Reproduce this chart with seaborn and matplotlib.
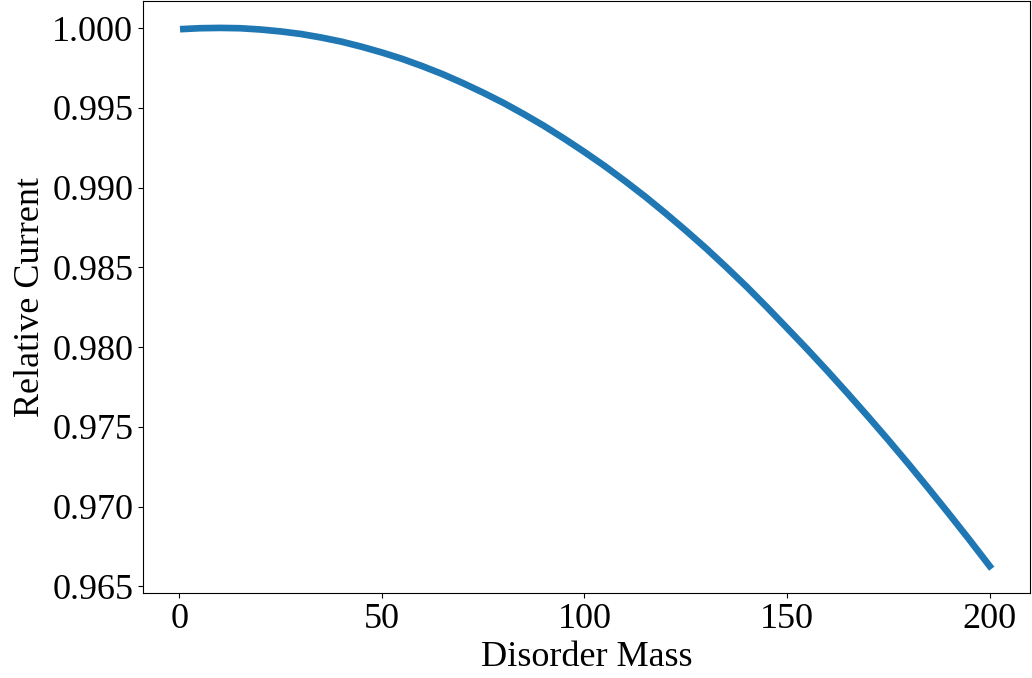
import matplotlib
matplotlib.use("Agg")
import matplotlib.pyplot as plt
import seaborn as sns
import pandas as pd

disorder_mass = [1, 5, 10, 15, 20, 25, 30, 35, 40, 45, 50, 55, 60, 65, 70, 75, 80,
                 85, 90, 95, 100, 105, 110, 115, 120, 125, 130, 135, 140, 145, 150,
                 155, 160, 165, 170, 175, 180, 185, 190, 195, 200]
relative_current = [0.99994, 0.99999, 1.00001, 0.99999, 0.99991, 0.99979, 0.99963,
                    0.99941, 0.99915, 0.99883, 0.99847, 0.99807, 0.99761, 0.99711,
                    0.99655, 0.99595, 0.99531, 0.99461, 0.99387, 0.99307, 0.99223,
                    0.99135, 0.99041, 0.98943, 0.98839, 0.98731, 0.98619, 0.98501,
                    0.98379, 0.98251, 0.98119, 0.97986, 0.97849, 0.97708, 0.97564,
                    0.97417, 0.97266, 0.97111, 0.96953, 0.96792, 0.96627]

df = pd.DataFrame({"Disorder Mass": disorder_mass, "Relative Current": relative_current})

plt.rcParams["font.family"] = ["Liberation Serif", "DejaVu Serif"]
plt.rcParams["font.size"] = 26

fig = plt.figure(figsize=(10.32, 6.78), dpi=100)
ax = fig.add_subplot(111)
fig.subplots_adjust(left=143/1032, right=1030/1032, top=1-1/678, bottom=1-593/678)

sns.lineplot(data=df, x="Disorder Mass", y="Relative Current", ax=ax,
             color="#1f77b4", linewidth=4.8)

ax.set_yticks([0.965, 0.970, 0.975, 0.980, 0.985, 0.990, 0.995, 1.000])
ax.set_yticklabels(["0.965", "0.970", "0.975", "0.980", "0.985", "0.990", "0.995", "1.000"])
ax.set_xticks([0, 50, 100, 150, 200])
ax.tick_params(labelsize=26)
ax.set_xlabel("Disorder Mass", fontsize=26)
ax.set_ylabel("Relative Current", fontsize=26)

fig.savefig("out.png", dpi=100)
